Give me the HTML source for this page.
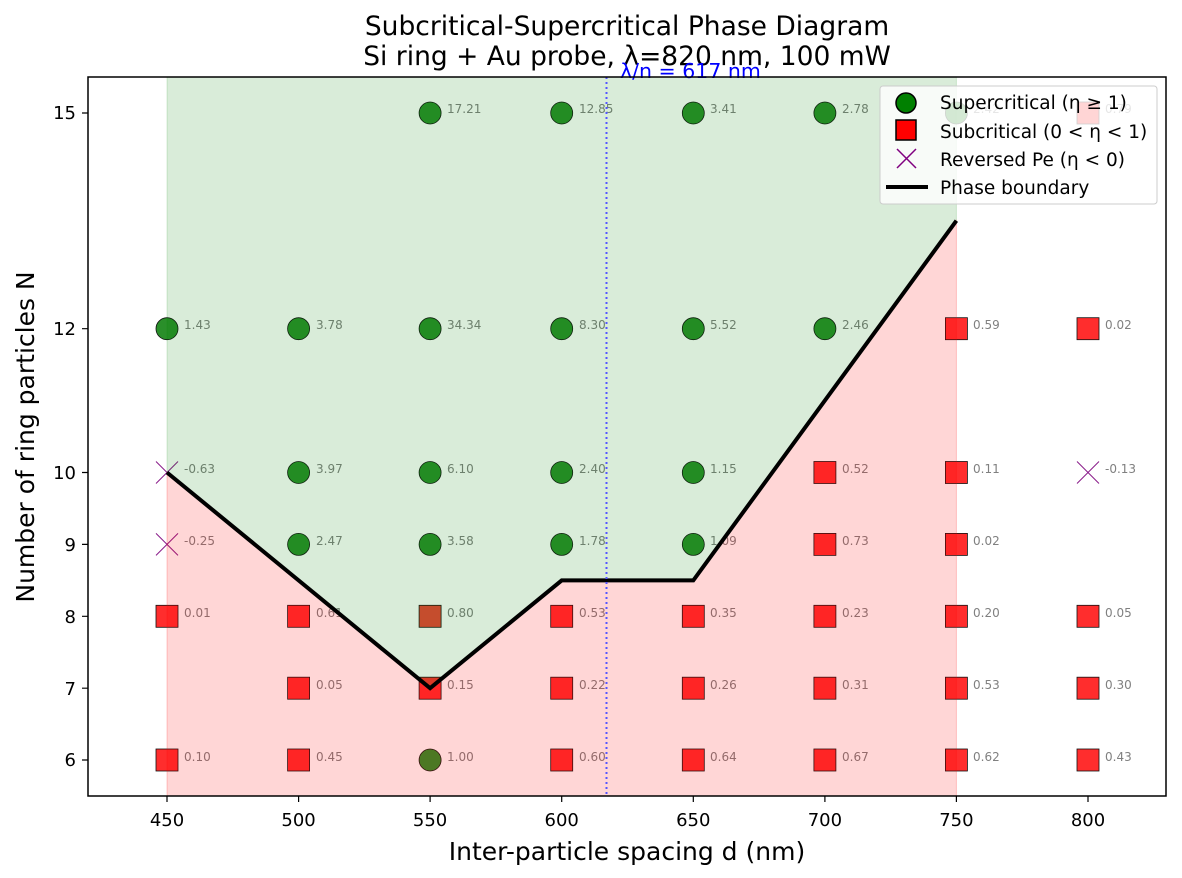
<!DOCTYPE html>
<html><head><meta charset="utf-8"><style>body{margin:0;background:#fff}svg{display:block;font-family:"DejaVu Sans","Liberation Sans",sans-serif}</style></head><body>
<svg width="1182" height="878" viewBox="0 0 1182 878">
<text x="627" y="35" font-size="26.5" text-anchor="middle">Subcritical-Supercritical Phase Diagram</text>
<text x="627" y="65" font-size="26.5" text-anchor="middle">Si ring + Au probe, λ=820 nm, 100 mW</text>
<g stroke="#111" stroke-width="0.8">
<g fill="#2a8f2a">
<circle cx="430.1" cy="113" r="11"/><circle cx="561.7" cy="113" r="11"/><circle cx="693.3" cy="113" r="11"/><circle cx="824.9" cy="113" r="11"/><circle cx="956.4" cy="113" r="11"/>
<circle cx="167" cy="328.7" r="11"/><circle cx="298.6" cy="328.7" r="11"/><circle cx="430.1" cy="328.7" r="11"/><circle cx="561.7" cy="328.7" r="11"/><circle cx="693.3" cy="328.7" r="11"/><circle cx="824.9" cy="328.7" r="11"/>
<circle cx="298.6" cy="472.5" r="11"/><circle cx="430.1" cy="472.5" r="11"/><circle cx="561.7" cy="472.5" r="11"/><circle cx="693.3" cy="472.5" r="11"/>
<circle cx="298.6" cy="544.4" r="11"/><circle cx="430.1" cy="544.4" r="11"/><circle cx="561.7" cy="544.4" r="11"/><circle cx="693.3" cy="544.4" r="11"/>
<circle cx="430.1" cy="760" r="11"/>
</g>
<g fill="#ff2d2d">
<rect x="1077" y="102" width="22" height="22"/>
<rect x="945.4" y="317.7" width="22" height="22"/><rect x="1077" y="317.7" width="22" height="22"/>
<rect x="813.9" y="461.5" width="22" height="22"/><rect x="945.4" y="461.5" width="22" height="22"/>
<rect x="813.9" y="533.4" width="22" height="22"/><rect x="945.4" y="533.4" width="22" height="22"/>
<rect x="156" y="605.3" width="22" height="22"/><rect x="287.6" y="605.3" width="22" height="22"/><rect x="419.1" y="605.3" width="22" height="22" fill="#e84535"/><rect x="550.7" y="605.3" width="22" height="22"/><rect x="682.3" y="605.3" width="22" height="22"/><rect x="813.9" y="605.3" width="22" height="22"/><rect x="945.4" y="605.3" width="22" height="22"/><rect x="1077" y="605.3" width="22" height="22"/>
<rect x="287.6" y="677.2" width="22" height="22"/><rect x="419.1" y="677.2" width="22" height="22"/><rect x="550.7" y="677.2" width="22" height="22"/><rect x="682.3" y="677.2" width="22" height="22"/><rect x="813.9" y="677.2" width="22" height="22"/><rect x="945.4" y="677.2" width="22" height="22"/><rect x="1077" y="677.2" width="22" height="22"/>
<rect x="156" y="749" width="22" height="22"/><rect x="287.6" y="749" width="22" height="22"/><rect x="550.7" y="749" width="22" height="22"/><rect x="682.3" y="749" width="22" height="22"/><rect x="813.9" y="749" width="22" height="22"/><rect x="945.4" y="749" width="22" height="22"/><rect x="1077" y="749" width="22" height="22"/>
</g>
</g>
<g stroke="#8a1a8a" stroke-width="1">
<path d="M156 461.5l22 22M178 461.5l-22 22M156 533.4l22 22M178 533.4l-22 22M1077 461.5l22 22M1099 461.5l-22 22"/>
</g>
<g font-size="12" fill="#808080">
<text x="447" y="113">17.21</text><text x="579" y="113">12.85</text><text x="710" y="113">3.41</text><text x="842" y="113">2.78</text><text x="973" y="113">2.42</text><text x="1105" y="113">0.79</text>
<text x="184" y="329">1.43</text><text x="316" y="329">3.78</text><text x="447" y="329">34.34</text><text x="579" y="329">8.30</text><text x="710" y="329">5.52</text><text x="842" y="329">2.46</text><text x="973" y="329">0.59</text><text x="1105" y="329">0.02</text>
<text x="184" y="473">-0.63</text><text x="316" y="473">3.97</text><text x="447" y="473">6.10</text><text x="579" y="473">2.40</text><text x="710" y="473">1.15</text><text x="842" y="473">0.52</text><text x="973" y="473">0.11</text><text x="1105" y="473">-0.13</text>
<text x="184" y="545">-0.25</text><text x="316" y="545">2.47</text><text x="447" y="545">3.58</text><text x="579" y="545">1.78</text><text x="710" y="545">1.09</text><text x="842" y="545">0.73</text><text x="973" y="545">0.02</text>
<text x="184" y="617">0.01</text><text x="316" y="617">0.61</text><text x="447" y="617">0.80</text><text x="579" y="617">0.53</text><text x="710" y="617">0.35</text><text x="842" y="617">0.23</text><text x="973" y="617">0.20</text><text x="1105" y="617">0.05</text>
<text x="316" y="689">0.05</text><text x="447" y="689">0.15</text><text x="579" y="689">0.22</text><text x="710" y="689">0.26</text><text x="842" y="689">0.31</text><text x="973" y="689">0.53</text><text x="1105" y="689">0.30</text>
<text x="184" y="761">0.10</text><text x="316" y="761">0.45</text><text x="447" y="761">1.00</text><text x="579" y="761">0.60</text><text x="710" y="761">0.64</text><text x="842" y="761">0.67</text><text x="973" y="761">0.62</text><text x="1105" y="761">0.43</text>
</g>
<path d="M167 77L956.4 77L956.4 220.7L693.3 580.4L561.7 580.4L430.1 688.2L167 472.5Z" fill="#008000" fill-opacity="0.15" stroke="#008000" stroke-opacity="0.15"/>
<path d="M167 796L956.4 796L956.4 220.7L693.3 580.4L561.7 580.4L430.1 688.2L167 472.5Z" fill="#ff0000" fill-opacity="0.16" stroke="#ff0000" stroke-opacity="0.2"/>
<polyline points="167,472.5 430.1,688.2 561.7,580.4 693.3,580.4 956.4,220.7" fill="none" stroke="#000" stroke-width="4"/>
<line x1="606.5" y1="77" x2="606.5" y2="796" stroke="#5555ff" stroke-width="2" stroke-dasharray="2,3"/>
<text x="620" y="78" font-size="20.5" fill="#0000ff">λ/n = 617 nm</text>
<rect x="88" y="77" width="1078" height="719" fill="none" stroke="#000" stroke-width="1.5"/>
<g stroke="#000" stroke-width="1.2">
<path d="M167 796v6M298.6 796v6M430.1 796v6M561.7 796v6M693.3 796v6M824.9 796v6M956.4 796v6M1088 796v6"/>
<path d="M88 113h-6M88 328.7h-6M88 472.5h-6M88 544.4h-6M88 616.3h-6M88 688.2h-6M88 760h-6"/>
</g>
<g font-size="18" text-anchor="middle">
<text x="167" y="826">450</text><text x="298.6" y="826">500</text><text x="430.1" y="826">550</text><text x="561.7" y="826">600</text><text x="693.3" y="826">650</text><text x="824.9" y="826">700</text><text x="956.4" y="826">750</text><text x="1088" y="826">800</text>
</g>
<g font-size="18" text-anchor="end">
<text x="76" y="119">15</text><text x="76" y="335">12</text><text x="76" y="479">10</text><text x="76" y="551">9</text><text x="76" y="623">8</text><text x="76" y="695">7</text><text x="76" y="766">6</text>
</g>
<text x="627" y="860" font-size="25" text-anchor="middle">Inter-particle spacing d (nm)</text>
<text transform="translate(34 437) rotate(-90)" font-size="25" text-anchor="middle">Number of ring particles N</text>
<rect x="880" y="86" width="277" height="118" rx="3" fill="#fff" fill-opacity="0.8" stroke="#ccc"/>
<circle cx="906" cy="103" r="10" fill="#008000" stroke="#000" stroke-width="1.5"/>
<rect x="896" y="120" width="20" height="20" fill="#ff0000" stroke="#000" stroke-width="1.5"/>
<path d="M897 149l19 19M916 149l-19 19" stroke="#800080" stroke-width="1.5"/>
<line x1="886" y1="187" x2="928" y2="187" stroke="#000" stroke-width="4"/>
<g font-size="18.5">
<text x="940" y="109">Supercritical (η ≥ 1)</text>
<text x="940" y="138">Subcritical (0 &lt; η &lt; 1)</text>
<text x="940" y="166">Reversed Pe (η &lt; 0)</text>
<text x="940" y="194">Phase boundary</text>
</g>
</svg>
</body></html>
